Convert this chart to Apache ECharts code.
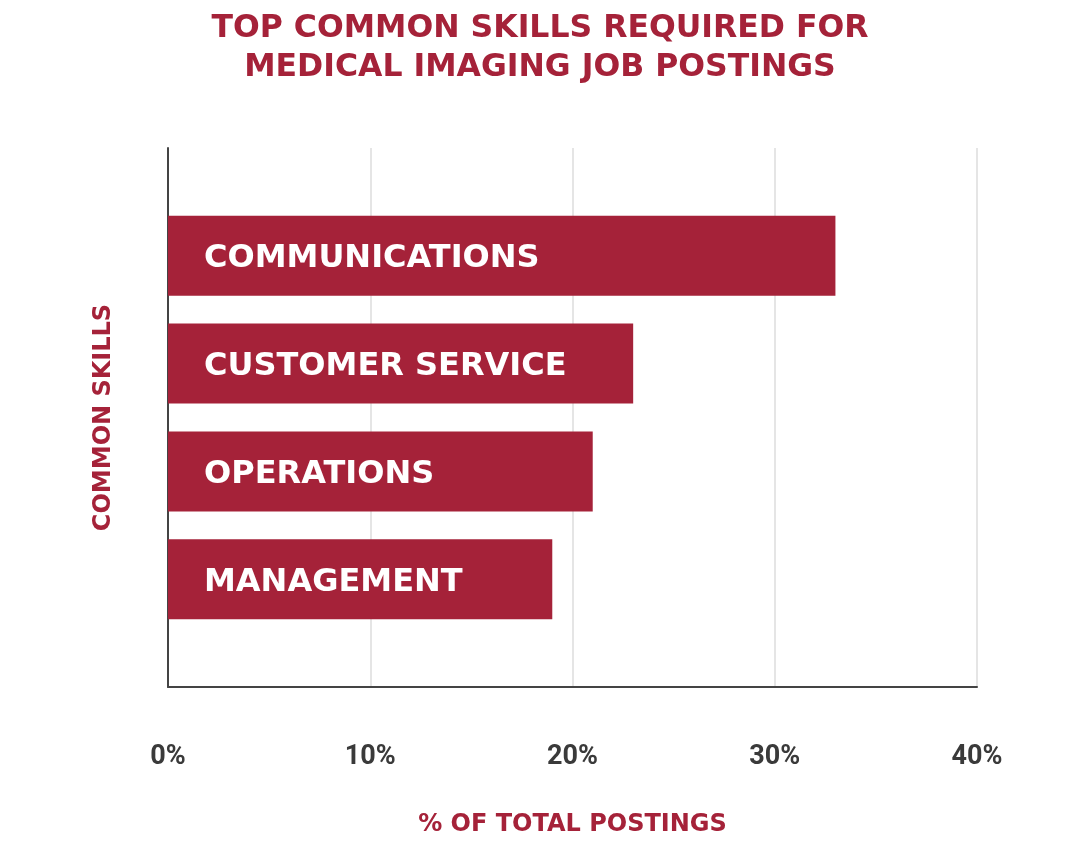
<!DOCTYPE html>
<html>
<head>
<meta charset="utf-8">
<script src="https://cdn.jsdelivr.net/npm/echarts@6/dist/echarts.min.js"></script>
<style>
html,body{margin:0;padding:0;background:#fff;}
#chart{width:1080px;height:847px;}
</style>
</head>
<body>
<div id="chart"></div>
<script>
const categories = ['COMMUNICATIONS', 'CUSTOMER SERVICE', 'OPERATIONS', 'MANAGEMENT'];
const values = [33, 23, 21, 19];
const xTicks = [0, 10, 20, 30, 40];

const RED = '#a52239';
const paddedCats = [''].concat(categories, ['']);
const paddedVals = [null].concat(values, [null]);

const chart = echarts.init(document.getElementById('chart'));
chart.setOption({
  animation: false,
  backgroundColor: '#ffffff',
  title: {
    text: 'TOP COMMON SKILLS REQUIRED FOR\nMEDICAL IMAGING JOB POSTINGS',
    left: 'center',
    top: 9,
    padding: 0,
    textStyle: {
      color: RED,
      fontFamily: 'DejaVu Sans',
      fontWeight: 'bold',
      fontSize: 31.5,
      lineHeight: 39
    }
  },
  grid: { left: 168, right: 103, top: 148, bottom: 160, containLabel: false },
  xAxis: {
    type: 'value',
    min: xTicks[0],
    max: xTicks[xTicks.length - 1],
    interval: 10,
    name: '% OF TOTAL POSTINGS',
    nameLocation: 'middle',
    nameGap: 126,
    nameTextStyle: {
      color: RED,
      fontFamily: 'DejaVu Sans',
      fontWeight: 'bold',
      fontSize: 24
    },
    axisLine: { show: true, lineStyle: { color: '#444444', width: 2 } },
    axisTick: { show: false },
    axisLabel: {
      margin: 57,
      color: '#3a3a3a',
      fontFamily: 'Roboto',
      fontWeight: 'bold',
      fontSize: 27,
      formatter: v => v + '%'
    },
    splitLine: { show: true, lineStyle: { color: '#dcdcdc', width: 1.5 } }
  },
  yAxis: {
    type: 'category',
    data: paddedCats,
    inverse: true,
    boundaryGap: false,
    name: 'COMMON SKILLS',
    nameLocation: 'middle',
    nameRotate: 90,
    nameGap: 52,
    nameTextStyle: {
      color: RED,
      fontFamily: 'DejaVu Sans',
      fontWeight: 'bold',
      fontSize: 24
    },
    axisLine: { show: true, lineStyle: { color: '#444444', width: 2 } },
    axisTick: { show: false },
    axisLabel: { show: false },
    splitLine: { show: false }
  },
  series: [{
    type: 'bar',
    data: paddedVals,
    barWidth: 80,
    itemStyle: { color: RED },
    label: {
      show: true,
      position: 'insideLeft',
      distance: 36,
      offset: [0, 3],
      formatter: '{b}',
      color: '#ffffff',
      fontFamily: 'DejaVu Sans',
      fontWeight: 'bold',
      fontSize: 32
    },
    z: 3
  }]
});
</script>
</body>
</html>
